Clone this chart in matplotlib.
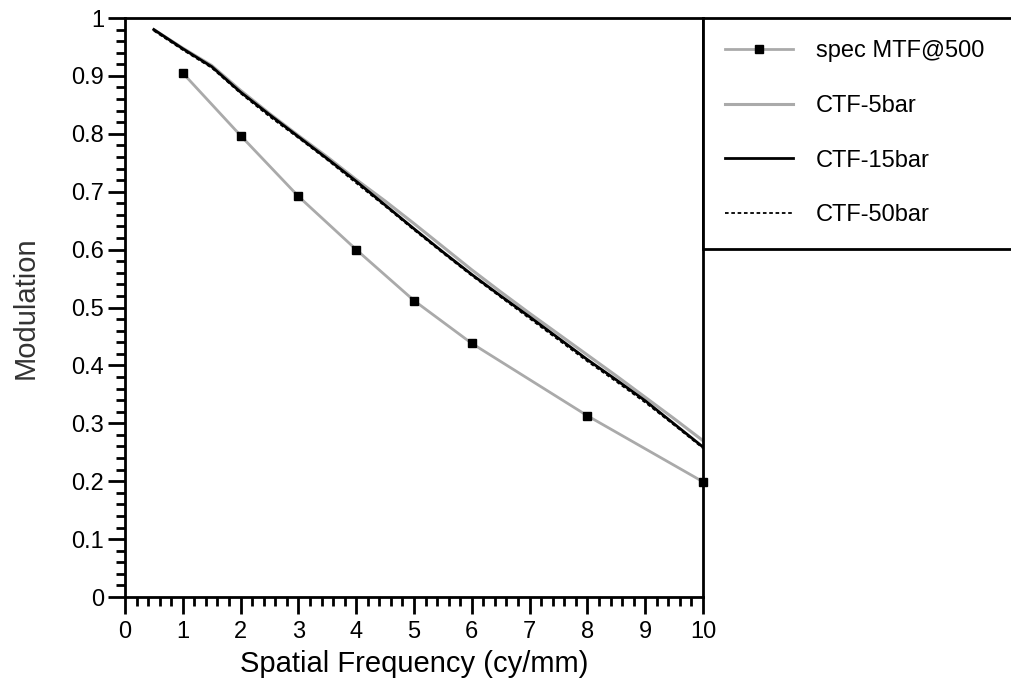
import matplotlib.pyplot as plt
from matplotlib.ticker import MultipleLocator

plt.rcParams['font.family'] = ['Liberation Sans', 'DejaVu Sans']

# spec MTF@500 points
spec_x = [1, 2, 3, 4, 5, 6, 8, 10]
spec_y = [0.905, 0.797, 0.692, 0.600, 0.512, 0.438, 0.313, 0.199]

# CTF curves
ctf_x = [0.5, 1, 1.5, 2, 2.5, 3, 3.5, 4, 4.5, 5, 5.5, 6, 6.5, 7, 7.5, 8, 8.5, 9, 9.5, 10]
ctf5 = [0.980, 0.948, 0.918, 0.875, 0.835, 0.797, 0.760, 0.721, 0.684, 0.645,
        0.605, 0.565, 0.527, 0.490, 0.454, 0.418, 0.382, 0.345, 0.308, 0.270]
ctf15 = [0.980, 0.947, 0.916, 0.872, 0.833, 0.795, 0.757, 0.718, 0.677, 0.636,
         0.596, 0.557, 0.520, 0.484, 0.447, 0.410, 0.375, 0.339, 0.299, 0.259]
ctf50 = [0.978, 0.945, 0.914, 0.870, 0.830, 0.793, 0.755, 0.715, 0.675, 0.634,
         0.594, 0.555, 0.518, 0.481, 0.444, 0.407, 0.372, 0.336, 0.297, 0.257]

fig = plt.figure(figsize=(10.11, 6.93), dpi=100)
ax = fig.add_axes([0.1236, 0.1385, 0.5718, 0.8355])

ax.plot(spec_x, spec_y, '-', color='#aaaaaa', lw=2, marker='s', ms=6,
        mfc='black', mec='black', label='spec MTF@500', clip_on=False, zorder=3)
ax.plot(ctf_x, ctf5, '-', color='#aaaaaa', lw=2.2, label='CTF-5bar')
ax.plot(ctf_x, ctf15, '-', color='black', lw=2, label='CTF-15bar')
ax.plot(ctf_x, ctf50, '--', color='black', lw=1.3, dashes=(2, 1.5), label='CTF-50bar')

ax.set_xlim(0, 10)
ax.set_ylim(0, 1)
ax.xaxis.set_major_locator(MultipleLocator(1))
ax.xaxis.set_minor_locator(MultipleLocator(0.2))
ax.yaxis.set_minor_locator(MultipleLocator(0.02))
ax.set_yticks([i / 10 for i in range(11)])
ax.set_yticklabels(['0', '0.1', '0.2', '0.3', '0.4', '0.5', '0.6', '0.7', '0.8', '0.9', '1'])

for s in ax.spines.values():
    s.set_linewidth(2)
ax.tick_params(which='major', direction='out', length=12, width=2, labelsize=17)
ax.tick_params(axis='x', which='major', pad=5)
ax.tick_params(axis='y', which='major', pad=3)
ax.tick_params(which='minor', direction='out', length=6.5, width=2)

ax.set_xlabel('Spatial Frequency (cy/mm)', fontsize=21, labelpad=5)
ax.set_ylabel('Modulation', fontsize=21, color='#333333', labelpad=23)

leg = ax.legend(loc='upper left', bbox_to_anchor=(1.0, 0.6, 0.54, 0.4), mode='expand',
                borderaxespad=0, fontsize=17, handlelength=2.84, handletextpad=1.0,
                labelspacing=1.38, borderpad=0.95, fancybox=False, framealpha=1,
                edgecolor='black', markerscale=0.85)
leg.get_frame().set_linewidth(2)

fig.savefig('out.png', dpi=100)
